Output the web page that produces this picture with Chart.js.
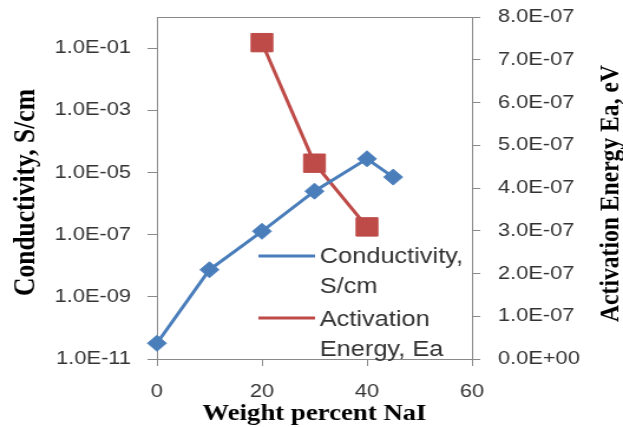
<!DOCTYPE html>
<html>
<head>
<meta charset="utf-8">
<script src="https://cdn.jsdelivr.net/npm/chart.js@4/dist/chart.umd.min.js"></script>
<style>
  html, body { margin: 0; padding: 0; background: #ffffff; }
</style>
</head>
<body>
<canvas id="c" width="528" height="427" style="display:block;width:623px;height:427px;"></canvas>
<script>
// ---- data ----
const xCond = [0, 10, 20, 30, 40, 45];
const conductivity = [3.2e-11, 7.4e-9, 1.28e-7, 2.5e-6, 2.75e-5, 7.1e-6];
const xEa = [20, 30, 40];
const activationEnergy = [7.4e-7, 4.58e-7, 3.09e-7];

const xTicks = [0, 20, 40, 60];
const condTicks = [1e-11, 1e-9, 1e-7, 1e-5, 1e-3, 1e-1];
const eaTicks = [0, 1e-7, 2e-7, 3e-7, 4e-7, 5e-7, 6e-7, 7e-7, 8e-7];

const seriesNames = ['Conductivity, S/cm', 'Activation Energy, Ea'];
const legendLines = [['Conductivity,', 'S/cm'], ['Activation', 'Energy, Ea']];
const xTitle = 'Weight percent NaI';
const yTitle = 'Conductivity, S/cm';
const y1Title = 'Activation Energy Ea, eV';

// ---- styling ----
const BLUE = '#4a7ebb';
const RED = '#be4b48';
const AXIS = '#898989';
const TICKCOL = '#333333';
const tickFont = { family: 'Liberation Sans', size: 18.5 };

function sci(v) {
  if (v === 0) return '0.0E+00';
  let e = Math.floor(Math.log10(Math.abs(v)) + 1e-9);
  let m = v / Math.pow(10, e);
  if (m.toFixed(1) === '10.0') { m /= 10; e += 1; }
  return m.toFixed(1) + 'E' + (e < 0 ? '-' : '+') + String(Math.abs(e)).padStart(2, '0');
}

function fitVertical(width) {
  return s => { s.width = width; s.paddingTop = 0; s.paddingBottom = 0; };
}

const decor = {
  id: 'decor',
  afterDraw(chart) {
    const ctx = chart.ctx;
    const a = chart.chartArea;
    ctx.save();
    // top frame line
    ctx.strokeStyle = AXIS;
    ctx.lineWidth = 1;
    ctx.beginPath();
    ctx.moveTo(a.left, Math.round(a.top) + 0.5);
    ctx.lineTo(a.right, Math.round(a.top) + 0.5);
    ctx.stroke();

    // axis titles
    ctx.fillStyle = '#000000';
    ctx.textAlign = 'center';
    ctx.textBaseline = 'alphabetic';
    ctx.font = 'bold 22.7px "Liberation Serif"';
    ctx.fillText(xTitle, (a.left + a.right) / 2, 420);

    ctx.save();
    ctx.translate(29, 192.5);
    ctx.rotate(-Math.PI / 2);
    ctx.font = 'bold 25.5px "Liberation Serif"';
    ctx.fillText(yTitle, 0, 0);
    ctx.restore();

    ctx.save();
    ctx.translate(524, 193.5);
    ctx.rotate(-Math.PI / 2);
    ctx.font = 'bold 23.6px "Liberation Serif"';
    ctx.fillText(y1Title, 0, 0);
    ctx.restore();

    // legend
    const rows = [
      { lineY: 256, baselines: [263, 293] },
      { lineY: 318, baselines: [326, 356] }
    ];
    chart.data.datasets.forEach((ds, i) => {
      const r = rows[i];
      ctx.strokeStyle = ds.borderColor;
      ctx.lineWidth = 3;
      ctx.beginPath();
      ctx.moveTo(219, r.lineY);
      ctx.lineTo(267, r.lineY);
      ctx.stroke();
      ctx.fillStyle = ds.backgroundColor;
      Chart.helpers.drawPoint(ctx, {
        pointStyle: ds.pointStyle,
        rotation: 0,
        borderWidth: 0
      }, 243, r.lineY, i === 0 ? 5.5 : 10.5);
      ctx.fill();
      ctx.fillStyle = '#333333';
      ctx.textAlign = 'left';
      ctx.font = '21.5px "Liberation Sans"';
      legendLines[i].forEach((t, k) => ctx.fillText(t, 271, r.baselines[k]));
    });
    ctx.restore();
  }
};

new Chart(document.getElementById('c'), {
  type: 'line',
  data: {
    datasets: [
      {
        label: seriesNames[0],
        data: xCond.map((x, i) => ({ x: x, y: conductivity[i] })),
        yAxisID: 'y',
        borderColor: BLUE,
        backgroundColor: BLUE,
        borderWidth: 3,
        pointStyle: 'rectRot',
        pointRadius: 8,
        pointBorderWidth: 1,
        clip: false,
        tension: 0
      },
      {
        label: seriesNames[1],
        data: xEa.map((x, i) => ({ x: x, y: activationEnergy[i] })),
        yAxisID: 'y1',
        borderColor: RED,
        backgroundColor: RED,
        borderWidth: 3,
        pointStyle: 'rect',
        pointRadius: 13,
        pointBorderWidth: 1,
        clip: false,
        tension: 0
      }
    ]
  },
  options: {
    responsive: false,
    devicePixelRatio: 1,
    animation: false,
    layout: { padding: { top: 17, left: 0, right: 0, bottom: 0 } },
    plugins: { legend: { display: false }, tooltip: { enabled: false } },
    scales: {
      x: {
        type: 'linear',
        position: 'bottom',
        min: 0, max: 60,
        afterBuildTicks: s => { s.ticks = xTicks.map(v => ({ value: v })); },
        afterFit: s => { s.height = 68; s.paddingLeft = 0; s.paddingRight = 0; },
        grid: { drawOnChartArea: false, drawTicks: true, tickLength: 7, color: AXIS },
        border: { display: true, color: AXIS, width: 1 },
        ticks: { font: tickFont, color: TICKCOL, padding: 15, maxRotation: 0 }
      },
      y: {
        type: 'logarithmic',
        position: 'left',
        min: 1e-11, max: 1,
        afterBuildTicks: s => { s.ticks = condTicks.map(v => ({ value: v })); },
        afterFit: fitVertical(133),
        grid: { drawOnChartArea: false, drawTicks: true, tickLength: 8, color: AXIS },
        border: { display: true, color: AXIS, width: 1 },
        ticks: { font: tickFont, color: TICKCOL, padding: 14, callback: v => sci(v) }
      },
      y1: {
        type: 'linear',
        position: 'right',
        min: 0, max: 8e-7,
        afterBuildTicks: s => { s.ticks = eaTicks.map(v => ({ value: v })); },
        afterFit: fitVertical(128),
        grid: { drawOnChartArea: false, drawTicks: true, tickLength: 7, color: AXIS },
        border: { display: true, color: AXIS, width: 1 },
        ticks: { font: tickFont, color: TICKCOL, padding: 15, callback: v => sci(v) }
      }
    }
  },
  plugins: [decor]
});
</script>
</body>
</html>
